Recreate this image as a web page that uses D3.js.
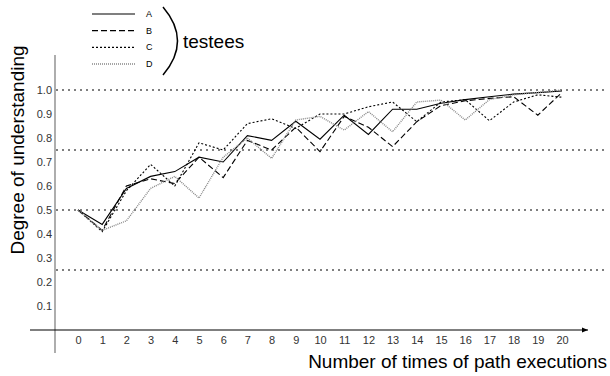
<!DOCTYPE html>
<html>
<head>
<meta charset="utf-8">
<script src="https://cdn.jsdelivr.net/npm/d3@7"></script>
<style>
  body { margin: 0; background: #fff; }
  text { font-family: "Liberation Sans", Arial, sans-serif; }
</style>
</head>
<body>
<svg width="610" height="376"></svg>
<script>
// values
var runs = d3.range(0, 21);
var seriesNames = ["A", "B", "C", "D"];
var valuesA = [0.5, 0.44, 0.59, 0.64, 0.66, 0.72, 0.70, 0.81, 0.79, 0.87, 0.795, 0.895, 0.815, 0.92, 0.92, 0.945, 0.96, 0.972, 0.983, 0.989, 0.996];
var valuesB = [0.5, 0.415, 0.60, 0.63, 0.61, 0.72, 0.635, 0.79, 0.75, 0.845, 0.743, 0.89, 0.845, 0.764, 0.868, 0.935, 0.955, 0.965, 0.972, 0.895, 0.99];
var valuesC = [0.5, 0.41, 0.58, 0.69, 0.60, 0.78, 0.75, 0.86, 0.88, 0.84, 0.90, 0.90, 0.93, 0.95, 0.868, 0.95, 0.96, 0.872, 0.95, 0.98, 0.97];
var valuesD = [0.5, 0.415, 0.455, 0.59, 0.64, 0.55, 0.72, 0.80, 0.715, 0.875, 0.89, 0.833, 0.91, 0.826, 0.95, 0.958, 0.875, 0.96, 0.98, 0.99, 1.0];
var yTicks = [0.1, 0.2, 0.3, 0.4, 0.5, 0.6, 0.7, 0.8, 0.9, 1.0];
var gridLevels = [0.25, 0.5, 0.75, 1.0];

var series = [
  { name: "A", values: valuesA, stroke: "#000", dash: null, width: 1.1 },
  { name: "B", values: valuesB, stroke: "#000", dash: "6,3", width: 1.1 },
  { name: "C", values: valuesC, stroke: "#000", dash: "2,2", width: 1.1 },
  { name: "D", values: valuesD, stroke: "#888", dash: "1,1", width: 1.4 }
];

var svg = d3.select("svg");

var x = d3.scaleLinear().domain([0, 20]).range([78, 562]);
var y = d3.scaleLinear().domain([0, 1]).range([330, 90]);

// dotted reference lines
svg.append("g").selectAll("line")
  .data(gridLevels)
  .enter().append("line")
  .attr("x1", 56).attr("x2", 606)
  .attr("y1", d => y(d)).attr("y2", d => y(d))
  .attr("stroke", "#555")
  .attr("stroke-width", 1.3)
  .attr("stroke-dasharray", "2,4");

// y axis (plain vertical line, labels to the left)
svg.append("line")
  .attr("x1", 55).attr("x2", 55)
  .attr("y1", 55).attr("y2", 353)
  .attr("stroke", "#777").attr("stroke-width", 1.2);

var yAxis = svg.append("g")
  .attr("transform", "translate(55,0)")
  .call(d3.axisLeft(y).tickValues(yTicks).tickSize(0).tickPadding(3).tickFormat(d3.format(".1f")));
yAxis.select(".domain").remove();
yAxis.selectAll("text").attr("font-size", 11).attr("fill", "#333").attr("font-family", "Liberation Sans, Arial, sans-serif");

// x axis with arrow
svg.append("defs").append("marker")
  .attr("id", "arrow")
  .attr("viewBox", "0 0 10 10")
  .attr("refX", 10).attr("refY", 5)
  .attr("markerWidth", 7).attr("markerHeight", 5)
  .attr("orient", "auto")
  .append("path").attr("d", "M0,1 L10,5 L0,9 Z").attr("fill", "#000");

svg.append("line")
  .attr("x1", 30).attr("x2", 588)
  .attr("y1", 330).attr("y2", 330)
  .attr("stroke", "#000").attr("stroke-width", 1.2)
  .attr("marker-end", "url(#arrow)");

var xAxis = svg.append("g")
  .attr("transform", "translate(0,330)")
  .call(d3.axisBottom(x).tickValues(runs).tickSize(0).tickPadding(6).tickFormat(d3.format("d")));
xAxis.select(".domain").remove();
xAxis.selectAll("text").attr("font-size", 11).attr("fill", "#333").attr("font-family", "Liberation Sans, Arial, sans-serif");

// series lines
var line = d3.line()
  .x((d, i) => x(runs[i]))
  .y(d => y(d));

svg.append("g").selectAll("path")
  .data(series)
  .enter().append("path")
  .attr("d", d => line(d.values))
  .attr("fill", "none")
  .attr("stroke", d => d.stroke)
  .attr("stroke-width", d => d.width)
  .attr("stroke-dasharray", d => d.dash);

// axis titles
svg.append("text")
  .attr("x", 607).attr("y", 368)
  .attr("text-anchor", "end")
  .attr("font-size", 19)
  .text("Number of times of path executions");

svg.append("text")
  .attr("transform", "translate(24,150) rotate(-90)")
  .attr("text-anchor", "middle")
  .attr("font-size", 19)
  .text("Degree of understanding");

// legend
var legY = d3.scalePoint().domain(seriesNames).range([14, 64]);
var leg = svg.append("g").selectAll("g")
  .data(series)
  .enter().append("g")
  .attr("transform", d => "translate(0," + legY(d.name) + ")");

leg.append("line")
  .attr("x1", 92).attr("x2", 135)
  .attr("stroke", d => d.stroke)
  .attr("stroke-width", d => d.width)
  .attr("stroke-dasharray", d => d.dash);

leg.append("text")
  .attr("x", 146).attr("y", 3)
  .attr("font-size", 9)
  .text(d => d.name);

svg.append("path")
  .attr("d", "M163,7 Q192,41 163,75")
  .attr("fill", "none")
  .attr("stroke", "#000")
  .attr("stroke-width", 1.5);

svg.append("text")
  .attr("x", 183).attr("y", 48)
  .attr("font-size", 19)
  .text("testees");
</script>
</body>
</html>
